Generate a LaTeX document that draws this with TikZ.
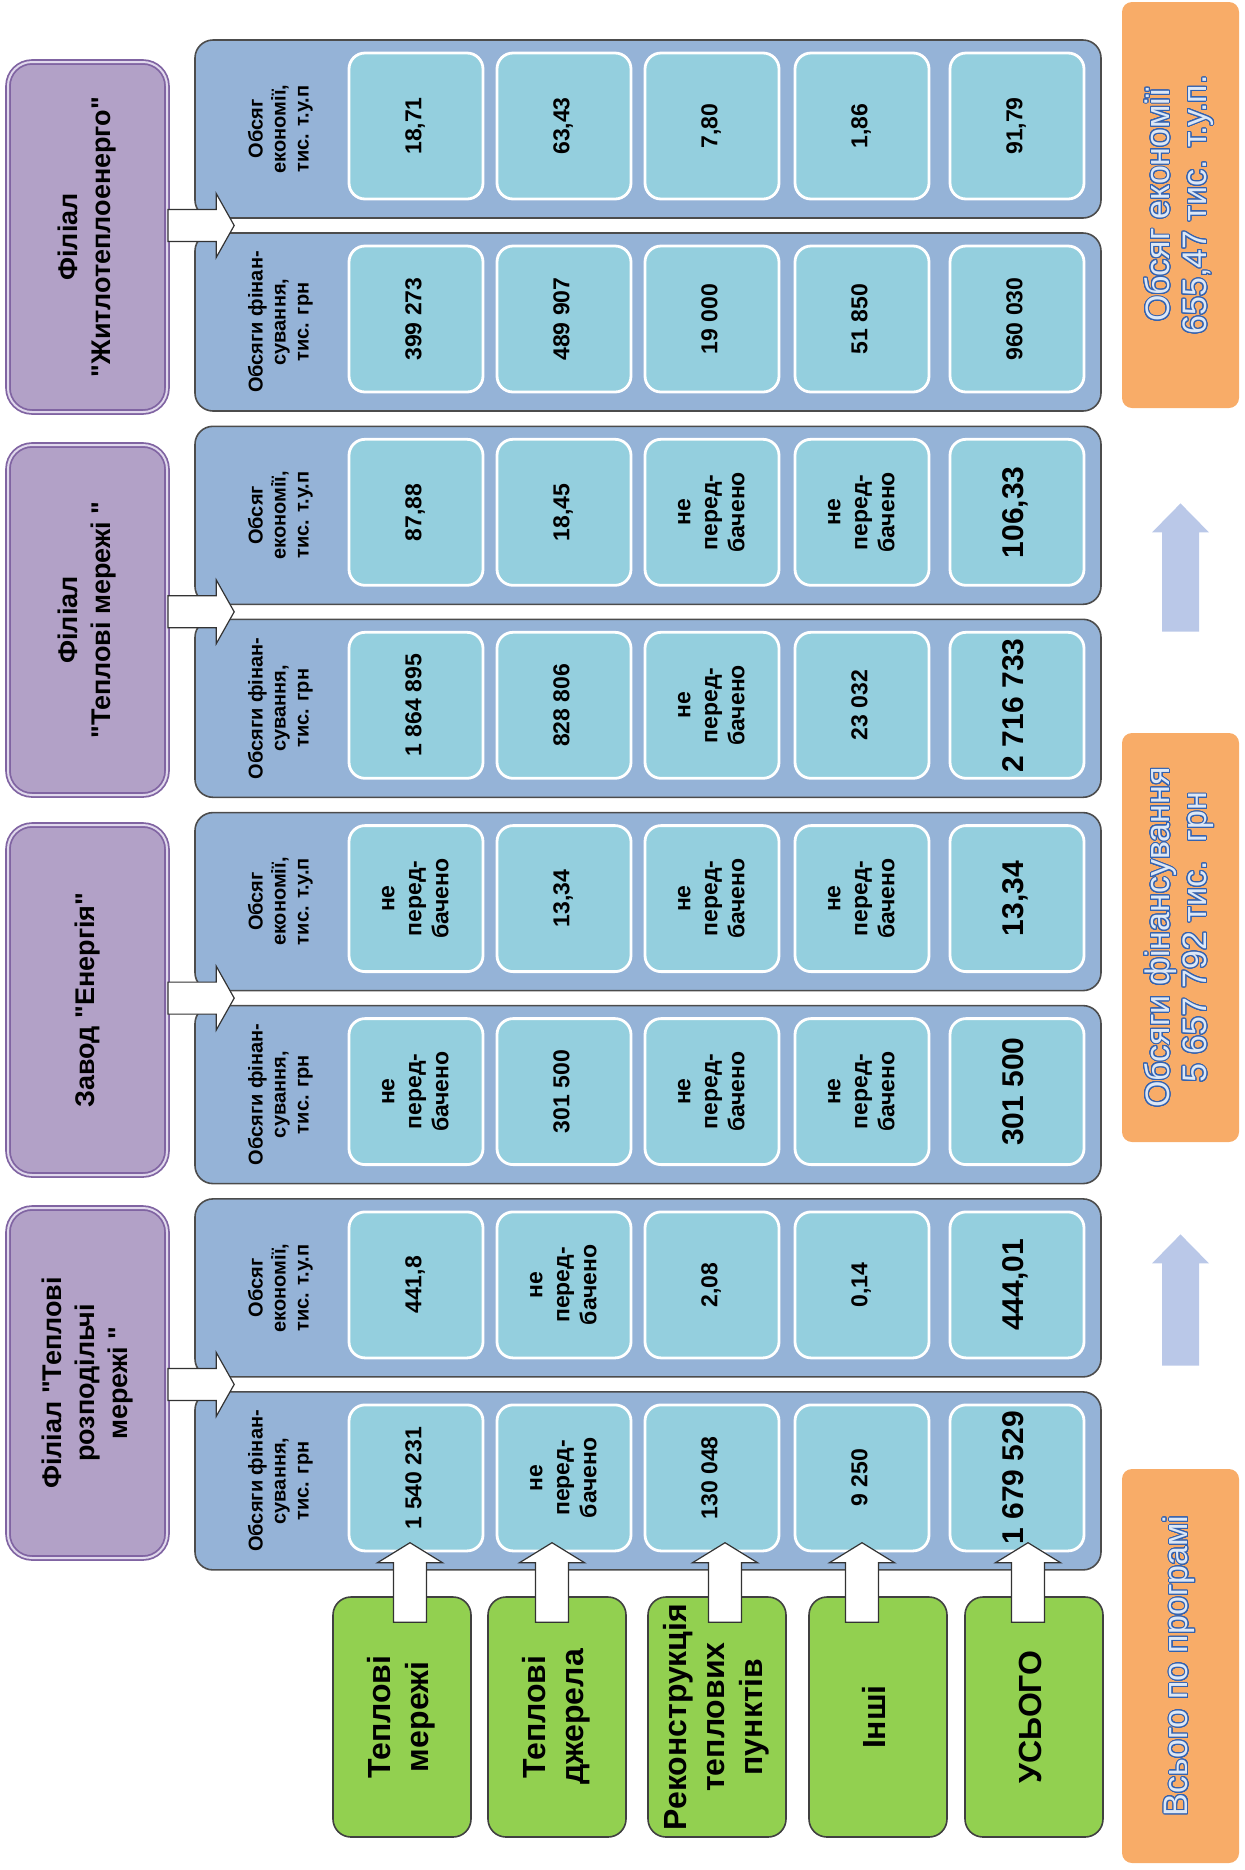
\documentclass[tikz,border=0pt]{standalone}
\usepackage{fontspec}
\setmainfont{Liberation Sans}
\usepackage{graphicx}
\usepackage[copies]{contour}
\usetikzlibrary{calc}

\definecolor{panelblue}{RGB}{149,179,215}
\definecolor{cellblue}{RGB}{148,207,222}
\definecolor{branchfill}{RGB}{178,161,199}
\definecolor{branchline}{RGB}{128,100,162}
\definecolor{branchlight}{RGB}{224,216,236}
\definecolor{workgreen}{RGB}{146,208,80}
\definecolor{totalorange}{RGB}{248,172,104}
\definecolor{totaltext}{RGB}{52,98,176}
\definecolor{totalfill}{RGB}{221,232,246}
\definecolor{flowblue}{RGB}{186,200,232}

\contourlength{0.5pt}
\contournumber{24}

% rotated (bottom-to-top) multi-line text
\newcommand{\vt}[1]{\rotatebox{90}{\begin{tabular}{@{}c@{}}#1\end{tabular}}}
\newcommand{\otext}[1]{\textcolor{totalfill}{\contour{totaltext}{#1}}}
\newcommand{\notplanned}{не\\перед-\\бачено}
% straight double quote
\newcommand{\qq}{\XeTeXglyph\XeTeXcharglyph"22\relax}

% fat arrows: [style]{base}{tip}{shaft half}{head half}{head length}
\newcommand{\blockup}[6][]{%
  \path[#1] let \p1=#2, \p2=#3 in
    (\x1-#4,\y1) -- (\x1-#4,\y2-#6) -- (\x1-#5,\y2-#6) -- (\x1,\y2)
    -- (\x1+#5,\y2-#6) -- (\x1+#4,\y2-#6) -- (\x1+#4,\y1) -- cycle;}
\newcommand{\blockright}[6][]{%
  \path[#1] let \p1=#2, \p2=#3 in
    (\x1,\y1-#4) -- (\x2-#6,\y1-#4) -- (\x2-#6,\y1-#5) -- (\x2,\y1)
    -- (\x2-#6,\y1+#5) -- (\x2-#6,\y1+#4) -- (\x1,\y1+#4) -- cycle;}

\begin{document}
\begin{tikzpicture}[x=0.5pt,y=-0.5pt,
    panel/.style={draw=black!70, line width=0.8pt, fill=panelblue, rounded corners=9pt,
      minimum width=453pt, minimum height=89pt, inner sep=0pt},
    cell/.style={draw=white, line width=1.4pt, fill=cellblue, rounded corners=8pt,
      minimum width=67pt, minimum height=73pt, inner sep=0pt,
      font=\fontsize{11.5}{13.5}\selectfont\bfseries},
    bigcell/.style={cell, font=\fontsize{15}{17}\selectfont\bfseries},
    rowlabel/.style={inner sep=0pt, font=\fontsize{10}{11.5}\selectfont\bfseries},
    branch/.style={draw=branchline, double=branchlight, double distance=1pt, line width=0.9pt,
      fill=branchfill, rounded corners=12pt, minimum width=79.5pt, minimum height=175pt,
      inner sep=0pt, font=\fontsize{13.5}{16.5}\selectfont\bfseries},
    work/.style={draw=black!75, line width=0.8pt, fill=workgreen, rounded corners=9pt,
      minimum width=69pt, minimum height=120pt, inner sep=0pt,
      font=\fontsize{16}{19}\selectfont\bfseries},
    total/.style={fill=totalorange, rounded corners=5pt, minimum width=58.5pt,
      inner sep=0pt, font=\fontsize{17}{18.5}\selectfont},
    whitearrow/.style={draw=black!80, line width=0.6pt, fill=white},
    flowarrow/.style={fill=flowblue}]
\useasboundingbox (0,0) rectangle (1244,1870);

% branches
\node[branch] (p1) at (87.5,237) {\vt{Філіал\\\qq Житлотеплоенерго\qq}};
\node[branch] (p2) at (87.5,620) {\vt{Філіал\\\qq Теплові мережі \qq}};
\node[branch] (p3) at (87.5,1000) {\vt{Завод \qq Енергія\qq}};
\node[branch] (p4) at (87.5,1383) {\vt{Філіал \qq Теплові\\розподільчі\\мережі \qq}};

% panels: e = economy, f = financing
\node[panel] (e1) at (648,129) {};
\node[panel] (f1) at (648,322) {};
\node[panel] (e2) at (648,515.3) {};
\node[panel] (f2) at (648,708.3) {};
\node[panel] (e3) at (648,901.6) {};
\node[panel] (f3) at (648,1094.6) {};
\node[panel] (e4) at (648,1287.9) {};
\node[panel] (f4) at (648,1480.9) {};

\node[rowlabel] (le1) at (281,129) {\vt{Обсяг\\економії,\\тис. т.у.п}};
\node[rowlabel] (lf1) at (281,322) {\vt{Обсяги фінан-\\сування,\\тис. грн}};
\node[rowlabel] (le2) at (281,515.3) {\vt{Обсяг\\економії,\\тис. т.у.п}};
\node[rowlabel] (lf2) at (281,708.3) {\vt{Обсяги фінан-\\сування,\\тис. грн}};
\node[rowlabel] (le3) at (281,901.6) {\vt{Обсяг\\економії,\\тис. т.у.п}};
\node[rowlabel] (lf3) at (281,1094.6) {\vt{Обсяги фінан-\\сування,\\тис. грн}};
\node[rowlabel] (le4) at (281,1287.9) {\vt{Обсяг\\економії,\\тис. т.у.п}};
\node[rowlabel] (lf4) at (281,1480.9) {\vt{Обсяги фінан-\\сування,\\тис. грн}};

% Житлотеплоенерго
\node[cell] (e1c1) at (416,126) {\vt{18,71}};
\node[cell] (e1c2) at (564,126) {\vt{63,43}};
\node[cell] (e1c3) at (712,126) {\vt{7,80}};
\node[cell] (e1c4) at (862,126) {\vt{1,86}};
\node[cell] (e1c5) at (1017,126) {\vt{91,79}};
\node[cell] (f1c1) at (416,319) {\vt{399 273}};
\node[cell] (f1c2) at (564,319) {\vt{489 907}};
\node[cell] (f1c3) at (712,319) {\vt{19 000}};
\node[cell] (f1c4) at (862,319) {\vt{51 850}};
\node[cell] (f1c5) at (1017,319) {\vt{960 030}};
% Теплові мережі
\node[cell] (e2c1) at (416,512.3) {\vt{87,88}};
\node[cell] (e2c2) at (564,512.3) {\vt{18,45}};
\node[cell] (e2c3) at (712,512.3) {\vt{\notplanned}};
\node[cell] (e2c4) at (862,512.3) {\vt{\notplanned}};
\node[bigcell] (e2c5) at (1017,512.3) {\vt{106,33}};
\node[cell] (f2c1) at (416,705.3) {\vt{1 864 895}};
\node[cell] (f2c2) at (564,705.3) {\vt{828 806}};
\node[cell] (f2c3) at (712,705.3) {\vt{\notplanned}};
\node[cell] (f2c4) at (862,705.3) {\vt{23 032}};
\node[bigcell] (f2c5) at (1017,705.3) {\vt{2 716 733}};
% Завод Енергія
\node[cell] (e3c1) at (416,898.6) {\vt{\notplanned}};
\node[cell] (e3c2) at (564,898.6) {\vt{13,34}};
\node[cell] (e3c3) at (712,898.6) {\vt{\notplanned}};
\node[cell] (e3c4) at (862,898.6) {\vt{\notplanned}};
\node[bigcell] (e3c5) at (1017,898.6) {\vt{13,34}};
\node[cell] (f3c1) at (416,1091.6) {\vt{\notplanned}};
\node[cell] (f3c2) at (564,1091.6) {\vt{301 500}};
\node[cell] (f3c3) at (712,1091.6) {\vt{\notplanned}};
\node[cell] (f3c4) at (862,1091.6) {\vt{\notplanned}};
\node[bigcell] (f3c5) at (1017,1091.6) {\vt{301 500}};
% Теплові розподільчі мережі
\node[cell] (e4c1) at (416,1284.9) {\vt{441,8}};
\node[cell] (e4c2) at (564,1284.9) {\vt{\notplanned}};
\node[cell] (e4c3) at (712,1284.9) {\vt{2,08}};
\node[cell] (e4c4) at (862,1284.9) {\vt{0,14}};
\node[bigcell] (e4c5) at (1017,1284.9) {\vt{444,01}};
\node[cell] (f4c1) at (416,1477.9) {\vt{1 540 231}};
\node[cell] (f4c2) at (564,1477.9) {\vt{\notplanned}};
\node[cell] (f4c3) at (712,1477.9) {\vt{130 048}};
\node[cell] (f4c4) at (862,1477.9) {\vt{9 250}};
\node[bigcell] (f4c5) at (1017,1477.9) {\vt{1 679 529}};

% kinds of work
\node[work] (g1) at (402,1717) {\vt{Теплові\\мережі}};
\node[work] (g2) at (557,1717) {\vt{Теплові\\джерела}};
\node[work] (g3) at (717,1717) {\vt{Реконструкція\\теплових\\пунктів}};
\node[work] (g4) at (878,1717) {\vt{Інші}};
\node[work] (g5) at (1034,1717) {\vt{УСЬОГО}};

% totals
\node[total, minimum height=203pt] (o1) at (1180.5,205)
  {\vt{\otext{Обсяг економії}\\\otext{655,47 тис. т.у.п.}}};
\node[total, minimum height=204.5pt] (o2) at (1180.5,937.5)
  {\vt{\otext{Обсяги фінансування}\\\otext{5 657 792 тис.\ \ грн}}};
\node[total, minimum height=197pt] (o3) at (1180.5,1666)
  {\vt{\otext{Всього по програмі}}};

% branch -> panels
\coordinate (m1) at ($(e1.south)!0.5!(f1.north)$);
\coordinate (m2) at ($(e2.south)!0.5!(f2.north)$);
\coordinate (m3) at ($(e3.south)!0.5!(f3.north)$);
\coordinate (m4) at ($(e4.south)!0.5!(f4.north)$);
\blockright[whitearrow]{(p1.east |- m1)}{($(m1 -| e1.west)+(40,0)$)}{8pt}{16pt}{9pt}
\blockright[whitearrow]{(p2.east |- m2)}{($(m2 -| e2.west)+(40,0)$)}{8pt}{16pt}{9pt}
\blockright[whitearrow]{(p3.east |- m3)}{($(m3 -| e3.west)+(40,0)$)}{8pt}{16pt}{9pt}
\blockright[whitearrow]{(p4.east |- m4)}{($(m4 -| e4.west)+(40,0)$)}{8pt}{16pt}{9pt}

% work -> financing cells
\coordinate (t) at ($(f4.south)+(0,-28)$);
\coordinate (b1) at ($(g1.north)+(8,26)$);
\coordinate (b2) at ($(g2.north)+(-5,26)$);
\coordinate (b3) at ($(g3.north)+(8,26)$);
\coordinate (b4) at ($(g4.north)+(-16,26)$);
\coordinate (b5) at ($(g5.north)+(-6,26)$);
\blockup[whitearrow]{(b1)}{(b1 |- t)}{8.25pt}{16.25pt}{10pt}
\blockup[whitearrow]{(b2)}{(b2 |- t)}{8.25pt}{16.25pt}{10pt}
\blockup[whitearrow]{(b3)}{(b3 |- t)}{8.25pt}{16.25pt}{10pt}
\blockup[whitearrow]{(b4)}{(b4 |- t)}{8.25pt}{16.25pt}{10pt}
\blockup[whitearrow]{(b5)}{(b5 |- t)}{8.25pt}{16.25pt}{10pt}

% totals flow
\coordinate (s1) at ($(o3.north)+(0,-103)$);
\coordinate (s2) at ($(o2.south)+(0,92)$);
\coordinate (s3) at ($(o2.north)+(0,-101)$);
\coordinate (s4) at ($(o1.south)+(0,95)$);
\blockup[flowarrow]{(s1)}{(s1 |- s2)}{9.25pt}{14.25pt}{14.5pt}
\blockup[flowarrow]{(s3)}{(s3 |- s4)}{9.25pt}{14.25pt}{14.5pt}
\end{tikzpicture}
\end{document}
